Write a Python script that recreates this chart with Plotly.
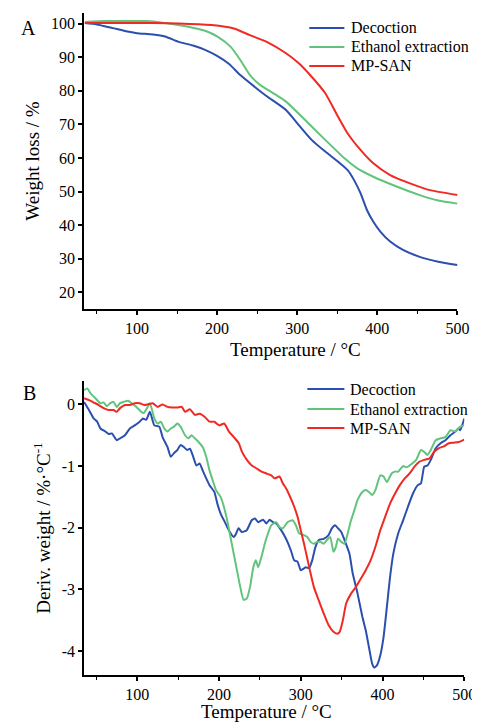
import plotly.graph_objects as go

# ---- panel A: TG curves (weight %, vs temperature) ----
tg_dec_t = [35, 50, 70, 90, 100, 120, 135, 152, 170, 185, 200, 215, 229, 249, 262, 286, 302, 318, 335, 351, 363, 371, 379, 387, 395, 404, 416, 432, 452, 476, 500]
tg_dec_w = [100.2, 99.8, 98.7, 97.6, 97.2, 96.8, 96.2, 94.6, 93.5, 92.2, 90.4, 88.0, 84.7, 80.8, 78.4, 74.3, 69.8, 65.4, 61.9, 58.9, 56.4, 53.4, 49.5, 44.5, 41.0, 38.0, 35.1, 32.6, 30.6, 29.1, 28.1]

tg_eth_t = [35, 60, 90, 112, 132, 164, 185, 201, 217, 229, 241, 254, 268, 286, 310, 335, 359, 375, 395, 424, 452, 476, 500]
tg_eth_w = [100.5, 100.8, 100.8, 100.8, 100.3, 99.1, 97.9, 96.1, 93.1, 89.2, 84.7, 81.7, 79.6, 76.8, 71.3, 65.4, 59.9, 56.9, 54.4, 51.5, 49.0, 47.3, 46.4]

tg_san_t = [35, 80, 120, 152, 193, 221, 241, 262, 286, 302, 318, 335, 351, 363, 379, 395, 416, 440, 464, 500]
tg_san_w = [100.2, 100.2, 100.2, 100.1, 99.6, 98.6, 96.6, 94.6, 91.2, 88.2, 84.2, 79.3, 72.3, 67.3, 62.4, 58.4, 54.9, 52.5, 50.5, 49.0]

# ---- panel B: DTG curves ----
dtg_dec_t = [35, 41, 47, 51, 55, 61, 65, 69, 75, 79, 85, 91, 97, 103, 107, 111, 115.5, 121, 127, 131, 137, 141, 145, 149, 153, 157, 161, 164.5, 168.5, 172.4, 176.4, 180, 184.4, 188.4, 194.3, 198, 202, 208, 212, 218, 220, 224, 228, 234, 240, 244, 248, 254, 258, 262, 266, 270, 276, 282, 288, 292, 296, 300, 304, 306, 310, 314, 318, 322, 328, 334, 338, 342, 345.6, 349.6, 353.5, 359.5, 363.5, 369.5, 375.4, 379.4, 383.4, 387.4, 390, 393.3, 397.3, 401.3, 405.3, 409.2, 413.2, 419.2, 425.2, 431.1, 437.1, 443.1, 447, 451, 455, 459, 465, 471, 477, 483, 489, 493, 495, 500]
dtg_dec_v = [0.04, -0.09, -0.23, -0.28, -0.39, -0.44, -0.48, -0.47, -0.58, -0.55, -0.50, -0.39, -0.34, -0.28, -0.23, -0.25, -0.12, -0.34, -0.36, -0.53, -0.69, -0.85, -0.79, -0.74, -0.66, -0.69, -0.74, -0.72, -0.85, -0.99, -0.96, -1.07, -1.20, -1.31, -1.42, -1.61, -1.77, -1.93, -2.04, -2.15, -2.12, -2.01, -2.07, -2.04, -1.88, -1.85, -1.91, -1.87, -1.93, -1.87, -1.91, -1.93, -2.04, -2.18, -2.37, -2.53, -2.55, -2.69, -2.66, -2.64, -2.66, -2.53, -2.31, -2.20, -2.18, -2.12, -2.01, -1.96, -2.01, -2.07, -2.20, -2.42, -2.74, -3.07, -3.45, -3.66, -3.94, -4.21, -4.27, -4.23, -4.07, -3.77, -3.29, -2.80, -2.42, -2.09, -1.88, -1.66, -1.45, -1.31, -1.28, -1.01, -0.99, -0.90, -0.71, -0.63, -0.58, -0.50, -0.44, -0.39, -0.42, -0.23]

dtg_eth_t = [35, 39, 43, 49, 55, 59, 63, 67, 71, 75, 79, 83, 89, 93, 99, 105, 108, 112, 115.5, 121, 125, 129, 133, 137, 141, 145, 149, 153, 158.5, 162.5, 166.5, 170.5, 176.4, 180, 184.4, 188.4, 192.3, 196.3, 202, 206, 210, 214, 218, 222, 226, 230, 234, 238, 242, 245, 248, 252, 256, 260, 264, 270, 274, 278, 284, 290, 294, 298, 304, 308, 312, 316, 320, 324, 328, 332, 336, 340, 343, 345.6, 349.6, 353.5, 357.5, 361.5, 365.5, 369.5, 375.4, 379.4, 383.4, 387.4, 391.3, 397.3, 401.3, 405.3, 411.2, 415.2, 419.2, 425.2, 429.1, 435.1, 441.1, 447, 451, 455, 459, 465, 471, 477, 483, 489, 495, 500]
dtg_eth_v = [0.23, 0.26, 0.18, 0.10, 0.02, 0.03, -0.03, 0.02, 0.04, -0.04, 0.02, 0.04, 0.06, 0.02, -0.04, -0.12, -0.14, -0.06, 0.02, -0.23, -0.31, -0.28, -0.39, -0.44, -0.39, -0.36, -0.31, -0.36, -0.50, -0.55, -0.50, -0.55, -0.63, -0.69, -0.85, -1.07, -1.23, -1.39, -1.50, -1.66, -1.88, -2.15, -2.42, -2.69, -2.96, -3.17, -3.15, -2.96, -2.64, -2.53, -2.64, -2.47, -2.26, -2.09, -1.96, -1.91, -1.99, -2.01, -1.91, -1.88, -1.96, -2.09, -2.12, -2.15, -2.23, -2.26, -2.23, -2.23, -2.26, -2.20, -2.15, -2.39, -2.31, -2.18, -2.23, -2.26, -2.09, -1.88, -1.72, -1.55, -1.42, -1.39, -1.42, -1.47, -1.39, -1.15, -1.17, -1.26, -1.12, -1.09, -1.09, -1.00, -1.02, -0.97, -0.90, -0.74, -0.77, -0.82, -0.74, -0.58, -0.55, -0.53, -0.42, -0.44, -0.36, -0.34]

dtg_san_t = [35, 41, 47, 53, 59, 65, 71, 75, 79, 85, 91, 97, 103, 109, 113, 119, 125, 131, 137, 143, 149, 154.5, 158.5, 164.5, 170.5, 176.4, 182.4, 188.4, 194.3, 200.3, 206.3, 212.2, 218.2, 224.2, 228.2, 234.1, 240.1, 246.1, 252, 258, 264, 268, 274, 278, 282, 286, 292, 296, 300, 304, 308, 312, 316, 322, 328, 334, 340, 344.4, 347.6, 351.5, 355.5, 361.5, 367.5, 373.4, 379.4, 385.4, 391.3, 397.3, 403.3, 409.2, 415.2, 421.2, 427.2, 433.1, 439.1, 445, 451, 457, 463, 469, 475, 481, 487, 493, 500]
dtg_san_v = [0.10, 0.07, 0.03, -0.01, -0.06, -0.09, -0.09, -0.12, -0.06, -0.01, -0.01, 0.02, 0.02, -0.01, 0.0, 0.02, -0.04, 0.0, -0.04, -0.05, -0.05, -0.04, -0.12, -0.08, -0.17, -0.15, -0.20, -0.28, -0.28, -0.34, -0.31, -0.44, -0.53, -0.63, -0.77, -0.90, -0.99, -1.04, -1.09, -1.12, -1.15, -1.20, -1.17, -1.28, -1.36, -1.47, -1.66, -1.82, -2.04, -2.26, -2.50, -2.74, -2.96, -3.18, -3.39, -3.58, -3.69, -3.72, -3.69, -3.50, -3.23, -3.07, -2.96, -2.83, -2.69, -2.53, -2.31, -2.04, -1.82, -1.61, -1.45, -1.31, -1.20, -1.12, -1.01, -0.93, -0.90, -0.88, -0.77, -0.71, -0.68, -0.63, -0.62, -0.61, -0.57]

names = ["Decoction", "Ethanol extraction", "MP-SAN"]
colors = ["#2b4fae", "#62c47c", "#f02a22"]

FONT = "Liberation Serif, Times New Roman, serif"

# the plot lands 8px lower on the page, so the height is trimmed and y positions
# (given in window pixels) are shifted by that amount
W, H = 480, 717
YOFF = 8
def px(x):
    return x / W
def py(y):
    return 1 - (y - YOFF) / H

fig = go.Figure()

tg = [(tg_dec_t, tg_dec_w), (tg_eth_t, tg_eth_w), (tg_san_t, tg_san_w)]
dtg = [(dtg_dec_t, dtg_dec_v), (dtg_eth_t, dtg_eth_v), (dtg_san_t, dtg_san_v)]

for (t, w), name, col in zip(tg, names, colors):
    fig.add_trace(go.Scatter(x=t, y=w, mode="lines", name=name, showlegend=False,
                             line=dict(color=col, width=2, shape="spline", smoothing=0.6),
                             xaxis="x", yaxis="y"))
for (t, v), name, col in zip(dtg, names, colors):
    fig.add_trace(go.Scatter(x=t, y=v, mode="lines", name=name, showlegend=False,
                             line=dict(color=col, width=2, shape="spline", smoothing=0.5),
                             xaxis="x2", yaxis="y2"))

axis_common = dict(
    showline=True, linecolor="black", linewidth=1.5, mirror=False,
    ticks="outside", ticklen=4, tickwidth=1.5, tickcolor="black",
    showgrid=False, zeroline=False,
    tickfont=dict(family=FONT, size=16, color="black"),
    minor=dict(ticks="outside", ticklen=3, tickwidth=1.2, tickcolor="black", showgrid=False),
)
title_font = dict(family=FONT, size=19, color="black")

# hand-made legends (tighter rows than plotly's own legend)
shapes, annotations = [], []
for rows, x0, x1, xt in [([28, 47, 66], 309, 345, 350), ([389, 409, 428], 307, 345, 349)]:
    for yy, name, col in zip(rows, names, colors):
        shapes.append(dict(type="line", xref="paper", yref="paper", x0=px(x0), x1=px(x1),
                           y0=py(yy), y1=py(yy), line=dict(color=col, width=2)))
        annotations.append(dict(text=name, x=px(xt), y=py(yy), xref="paper", yref="paper",
                                xanchor="left", yanchor="middle", showarrow=False,
                                font=dict(family=FONT, size=16, color="black")))

# panel letters and the x axis titles (these sit off-centre in the original)
for txt, xx, yy, size, ya in [("A", 21, 28, 20, "middle"), ("B", 22, 393, 20, "middle"),
                              ("Temperature / °C", 295, 349, 19, "middle"),
                              ("Temperature / °C", 265, 724, 19, "bottom")]:
    annotations.append(dict(text=txt, x=px(xx), y=py(yy), xref="paper", yref="paper", showarrow=False,
                            xanchor="center", yanchor=ya, font=dict(family=FONT, size=size, color="black")))

fig.update_layout(
    width=W, height=H,
    margin=dict(l=0, r=0, t=0, b=0),
    paper_bgcolor="white", plot_bgcolor="white",
    font=dict(family=FONT, color="black"),
    showlegend=False,
    xaxis=dict(axis_common, domain=[px(78), px(461)], range=[34, 500], anchor="y",
               tickvals=[100, 200, 300, 400, 500], minor_tickvals=[50, 150, 250, 350, 450]),
    yaxis=dict(axis_common, domain=[py(309), py(13)], range=[15, 103.2], anchor="x",
               tickvals=[20, 30, 40, 50, 60, 70, 80, 90, 100], minor=dict(dtick=5, tick0=0),
               title=dict(text="Weight loss / %", font=title_font, standoff=6)),
    xaxis2=dict(axis_common, domain=[px(78), px(468)], range=[35, 500], anchor="y2",
                tickvals=[100, 200, 300, 400, 500], minor_tickvals=[50, 150, 250, 350, 450]),
    yaxis2=dict(axis_common, domain=[py(675), py(381)], range=[-4.39, 0.38], anchor="x2",
                tickvals=[0, -1, -2, -3, -4], ticktext=["0", "-1", "-2", "-3", "-4"],
                minor=dict(dtick=0.5, tick0=0),
                title=dict(text="Deriv. weight / %·°C<sup>-1</sup>", font=title_font, standoff=6)),
    shapes=shapes,
    annotations=annotations,
)

fig.write_html("out.html")
